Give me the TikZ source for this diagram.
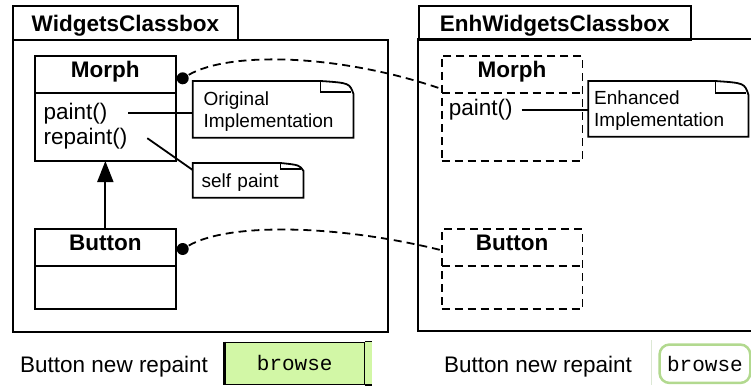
\documentclass[tikz,border=0pt]{standalone}
\usepackage{fontspec}
\setmainfont{Liberation Sans}
\setmonofont{Liberation Mono}
\usetikzlibrary{positioning}
\usetikzlibrary{arrows.meta}
\definecolor{btngreen}{HTML}{D2F7A6}
\definecolor{btnedge}{HTML}{B2D98F}
\definecolor{btnline}{HTML}{DCE8D4}

\newcommand{\notefold}[3]{
  \draw (#1.south west) -- (#1.north west) -- ([xshift=-#2pt]#1.north east)
    .. controls ([xshift=-4pt,yshift=-2pt]#1.north east) .. ([yshift=-#3pt]#1.north east) -- (#1.south east) -- cycle;
  \draw[line width=1.2pt] ([xshift=-#2pt]#1.north east) -- ([xshift=-#2pt,yshift=-#3pt+2pt]#1.north east) -- ([xshift=-3pt,yshift=-#3pt+2pt]#1.north east);
}

\begin{document}
\begin{tikzpicture}[x=1pt,y=-1pt,line width=1.8pt,
  big/.style={font=\fontsize{22.5}{26}\selectfont},
  bigb/.style={font=\bfseries\fontsize{22.5}{26}\selectfont},
  small/.style={font=\fontsize{19}{22}\selectfont},
  boxtab/.style={draw,bigb,anchor=north west,minimum height=34pt,inner sep=0pt,text height=18pt,text depth=0pt},
  classhead/.style={draw,bigb,minimum width=140.7pt,minimum height=37pt,inner sep=0pt,text height=16pt,text depth=10pt,outer sep=0pt},
  classbody/.style={draw,minimum width=140.7pt,inner sep=0pt,outer sep=0pt},
  refine/.style={dash pattern=on 8pt off 5pt},
  notebox/.style={small,anchor=north west,align=left,inner ysep=0pt},
  member/.style={big,anchor=base west,inner sep=0pt},
  joindot/.style={circle,fill,inner sep=0pt,minimum size=12pt}
  ]
  \useasboundingbox (0,0) rectangle (751,385);

  \node[draw,anchor=north west,minimum width=375pt,minimum height=291.7pt,inner sep=0pt] (wbox) at (12,39) {};
  \node[boxtab,minimum width=225pt] (wtab) at (12,5) {WidgetsClassbox};
  \draw (751,39) -| (417.7,330.7) -- (751,330.7);
  \node[boxtab,minimum width=272.3pt] (etab) at (417.7,5) {EnhWidgetsClassbox};

  \node[classhead,anchor=north west] (mh) at (35,55.7) {Morph};
  \node[classbody,minimum height=68.3pt,below=0pt of mh] (mb) {};
  \node[member] (lpaint) at (42.7,119) {paint()};
  \node[member] (lrepaint) at (42.7,144) {repaint()};

  \node[classhead,anchor=north west] (bh) at (35,229.3) {Button};
  \node[classbody,minimum height=43pt,below=0pt of bh] (bb) {};
  \draw[-{Triangle[length=21pt,width=16pt]}] (bh) -- (mb);

  \node[notebox,text width=139pt,inner xsep=10pt,minimum height=55pt,text depth=22pt] (orig) at (192.7,81) {Original\\Implementation};
  \notefold{orig}{32.7}{13}
  \node[notebox,text width=93pt,inner xsep=8pt,minimum height=33pt,text depth=0pt] (selfp) at (192.7,163) {self paint};
  \notefold{selfp}{23}{8}
  \draw ([xshift=20pt]lpaint.east) -- (lpaint.east -| orig.west);
  \draw ([xshift=19pt]lrepaint.east) -- ([yshift=-7pt]selfp.north west);

  \node[classhead,draw=none,anchor=north west] (emh) at (441.7,55.7) {Morph};
  \node[classbody,refine,minimum height=105.3pt,anchor=north west] (em) at (emh.north west) {};
  \draw[refine] (emh.south west) -- (emh.south east);
  \node[member] (epaint) at (448,115.5) {paint()};
  \node[notebox,text width=148.4pt,inner xsep=5pt,minimum height=54pt,text depth=22pt] (enhn) at (588.3,81) {Enhanced\\Implementation};
  \notefold{enhn}{33.4}{14}
  \draw ([xshift=8pt]epaint.east) -- (epaint.east -| enhn.west);

  \node[classhead,draw=none,anchor=north west] (ebh) at (441.7,229.3) {Button};
  \node[classbody,refine,minimum height=79.7pt,anchor=north west] (eb) at (ebh.north west) {};
  \draw[refine] (ebh.south west) -- (ebh.south east);

  \node[joindot] (mdot) at (182.7,78.3) {};
  \node[joindot] (bdot) at (182.7,249) {};
  \draw[refine] (mdot) .. controls (230,51) and (340,54) .. ([yshift=3.7pt]emh.south west);
  \draw[refine] (bdot) .. controls (230,222) and (340,225) .. ([yshift=16pt]ebh.south west);

  \node[member] (lcap) at (19.3,372.5) {Button new repaint};
  \node[fill=btngreen,draw=black,line width=1.5pt,anchor=north west,minimum width=139pt,minimum height=42pt,inner sep=0pt,font=\ttfamily\fontsize{21}{21}\selectfont] (lbtn) at (224.5,341.5) {browse};
  \fill[btngreen] ([yshift=-0.75pt]lbtn.north east) rectangle ([xshift=7pt,yshift=0.75pt]lbtn.south east);
  \draw[line width=1.5pt] (lbtn.north east) -- ([xshift=7pt]lbtn.north east);
  \draw[line width=1.5pt] (lbtn.south east) -- ([xshift=7pt]lbtn.south east);
  \draw[line width=3pt] (lbtn.north west) -- (lbtn.south west);

  \node[member] (rcap) at (443.3,372.5) {Button new repaint};
  \draw[btnline,line width=1.5pt] (651.7,340) -- (651.7,385);
  \node[draw=btnedge,line width=2.5pt,rounded corners=10pt,anchor=north west,minimum width=90.7pt,minimum height=38.4pt,inner sep=0pt,font=\ttfamily\fontsize{21}{21}\selectfont] (rbtn) at (658.3,343.3) {browse};
\end{tikzpicture}
\end{document}
